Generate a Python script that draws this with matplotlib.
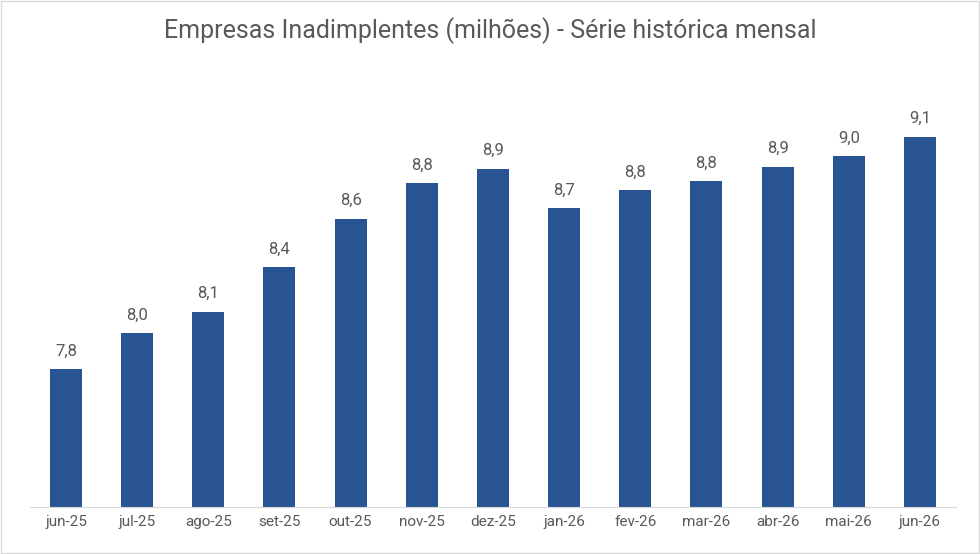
import matplotlib
matplotlib.use("Agg")
import matplotlib.pyplot as plt

categories = ["jun-25","jul-25","ago-25","set-25","out-25","nov-25","dez-25","jan-26","fev-26","mar-26","abr-26","mai-26","jun-26"]
values = [7.80, 8.00, 8.12, 8.37, 8.64, 8.84, 8.92, 8.70, 8.80, 8.85, 8.93, 8.99, 9.10]

plt.rcParams['font.family'] = ['Roboto', 'DejaVu Sans']
fig = plt.figure(figsize=(9.8, 5.54), dpi=100)
ax = fig.add_axes([0.031, 0.085, 0.944, 0.775])
x = range(len(categories))
bars = ax.bar(x, values, width=0.45, color="#285493")
for xi, v in zip(x, values):
    ax.text(xi, v + 0.06, f"{v:.1f}".replace(".", ","), ha="center", va="bottom", fontsize=12, color="#595959")
ax.set_xlim(-0.5, len(categories) - 0.5)
ax.set_ylim(7.03, 9.43)
ax.set_yticks([])
ax.set_xticks(list(x))
ax.set_xticklabels(categories, fontsize=11, color="#595959")
ax.tick_params(axis="x", length=0, pad=6)
for s in ["top", "right", "left"]:
    ax.spines[s].set_visible(False)
ax.spines["bottom"].set_color("#d9d9d9")
fig.text(0.5, 0.945, "Empresas Inadimplentes (milhões) - Série histórica mensal", ha="center", va="center", fontsize=18, color="#595959")
fig.patches.append(plt.Rectangle((0.001, 0.001), 0.998, 0.997, transform=fig.transFigure, fill=False, edgecolor="#d9d9d9", lw=1))
fig.savefig("out.png", dpi=100)
